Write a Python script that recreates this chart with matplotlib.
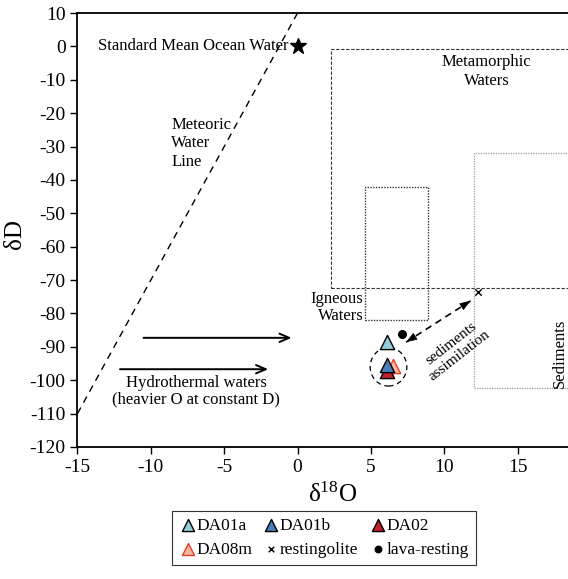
import numpy as np
import matplotlib.pyplot as plt
from matplotlib.patches import Rectangle, Ellipse

plt.rcParams['font.family'] = ['Liberation Serif', 'DejaVu Serif']
plt.rcParams['mathtext.fontset'] = 'custom'
plt.rcParams['mathtext.rm'] = 'Liberation Serif'
plt.rcParams['mathtext.it'] = 'Liberation Serif:italic'
plt.rcParams['axes.unicode_minus'] = False

# samples (d18O, dD)
samples = ['DA01a', 'DA01b', 'DA02', 'DA08m']
s_x = [6.1, 6.1, 6.1, 6.5]
s_y = [-88.5, -95.5, -97.2, -95.7]
s_face = ['#92CDDC', '#4A7EBB', '#C0202A', '#F5B49C']
s_edge = ['black', 'black', 'black', '#E8402A']
s_z = [6, 6, 5, 4]

resting_x, resting_y = [12.3], [-73.5]
lava_x, lava_y = [7.1], [-86.1]

# meteoric water line  dD = 8*d18O + 10
mwl_x = [-15, 0]
mwl_y = [-110, 10]

# fields: (x0, y0, x1, y1)
metamorphic = [2.3, -72.3, 30, -0.8]
igneous = [4.6, -82.0, 8.9, -42.0]
sediments = [12.0, -102.3, 30, -32.0]

# hydrothermal arrows: (x_start, x_end, y)
hydro_arrows = [(-10.5, -0.4, -87.3), (-12.1, -2.0, -96.7)]
assim_start = (7.4, -88.6)
assim_end = (11.8, -76.2)

fig = plt.figure(figsize=(5.68, 5.79), dpi=100)
ax = fig.add_axes([0.1364, 0.228, 0.904, 0.7495])

ax.plot(mwl_x, mwl_y, 'k--', lw=1.0, dashes=(5, 4))

r = metamorphic
ax.add_patch(Rectangle((r[0], r[1]), r[2]-r[0], r[3]-r[1], fill=False,
                       ls=(0, (3, 1.5)), lw=0.8, ec='#333333'))
r = igneous
ax.add_patch(Rectangle((r[0], r[1]), r[2]-r[0], r[3]-r[1], fill=False,
                       ls=(0, (1, 1)), lw=1.0, ec='#333333'))
r = sediments
ax.add_patch(Rectangle((r[0], r[1]), r[2]-r[0], r[3]-r[1], fill=False,
                       ls=(0, (1, 1)), lw=0.9, ec='#999999'))

ax.plot([0], [0], marker='*', ms=12, color='black', ls='none')
ax.text(-0.6, 0, 'Standard Mean Ocean Water', ha='right', va='center', fontsize=12)
ax.text(-8.6, -29, 'Meteoric\nWater\nLine', ha='left', va='center', fontsize=12,
        linespacing=1.2)
ax.text(12.9, -7.5, 'Metamorphic\nWaters', ha='center', va='center', fontsize=12,
        linespacing=1.2)
ax.text(4.5, -78.2, 'Igneous\nWaters', ha='right', va='center', fontsize=12,
        linespacing=1.1)
ax.text(17.85, -92, 'Sediments', ha='center', va='center', fontsize=12, rotation=90)
ax.text(-6.9, -103.3, 'Hydrothermal waters\n(heavier O at constant D)', ha='center',
        va='center', fontsize=12, linespacing=1.0)
ax.text(10.75, -90.8, 'sediments\nassimilation', ha='center', va='center', fontsize=11,
        rotation=38, rotation_mode='anchor', linespacing=1.15)

for x0, x1, y in hydro_arrows:
    ax.annotate('', xy=(x1, y), xytext=(x0, y),
                arrowprops=dict(arrowstyle='->,head_length=0.7,head_width=0.3',
                                lw=1.4, color='black', shrinkA=0, shrinkB=0))

ax.plot([assim_start[0], assim_end[0]], [assim_start[1], assim_end[1]], 'k',
        ls=(0, (4, 3)), lw=1.2)
for tip, tail in [(assim_start, assim_end), (assim_end, assim_start)]:
    d = np.array(tail) - np.array(tip)
    ax.annotate('', xy=tip, xytext=(tip[0] + 0.12*d[0], tip[1] + 0.12*d[1]),
                arrowprops=dict(arrowstyle='-|>,head_length=0.7,head_width=0.25',
                                lw=0.5, color='black', shrinkA=0, shrinkB=0))

ax.add_patch(Ellipse((6.2, -96.0), 2.5, 11.5, fill=False, ls=(0, (4, 3)), lw=0.9,
                     ec='black'))

handles = []
for name, x, y, fc, ec, z in zip(samples, s_x, s_y, s_face, s_edge, s_z):
    h = ax.scatter(x, y, marker='^', s=105, c=fc, edgecolors=ec, linewidths=1.0,
                   zorder=z, label=name)
    handles.append(h)
h_rest = ax.scatter(resting_x, resting_y, marker='x', s=22, c='black', lw=1.0,
                    zorder=5, label='restingolite')
h_lava = ax.scatter(lava_x, lava_y, marker='o', s=30, c='black', zorder=5,
                    label='lava-resting')

ax.set_xlim(-15, 20)
ax.set_ylim(-120, 10)
ax.set_xticks(np.arange(-15, 20, 5))
ax.set_yticks(np.arange(-120, 11, 10))
ax.tick_params(direction='out', length=5, width=1.0, labelsize=14, right=False, top=False)
ax.spines['right'].set_visible(False)
for s in ['left', 'bottom', 'top']:
    ax.spines[s].set_linewidth(1.3)

ax.set_xlabel('δ$^{18}$O', fontsize=18)
ax.set_ylabel('δD', fontsize=18)
ax.xaxis.set_label_coords(0.496, -0.082)
ax.yaxis.set_label_coords(-0.1, 0.49)

# row-major order in a 3-column legend
order = [handles[0], handles[3], handles[1], h_rest, handles[2], h_lava]
leg = fig.legend(order, [h.get_label() for h in order], ncol=3, loc='lower center',
                 bbox_to_anchor=(0.57, 0.01), fontsize=12.5, frameon=True,
                 fancybox=False, edgecolor='black', handletextpad=0.0,
                 handlelength=1.0, columnspacing=0.6, borderpad=0.4,
                 labelspacing=0.45, scatterpoints=1, markerscale=0.85)
leg.get_frame().set_linewidth(0.8)

fig.savefig('out.png', dpi=100)
